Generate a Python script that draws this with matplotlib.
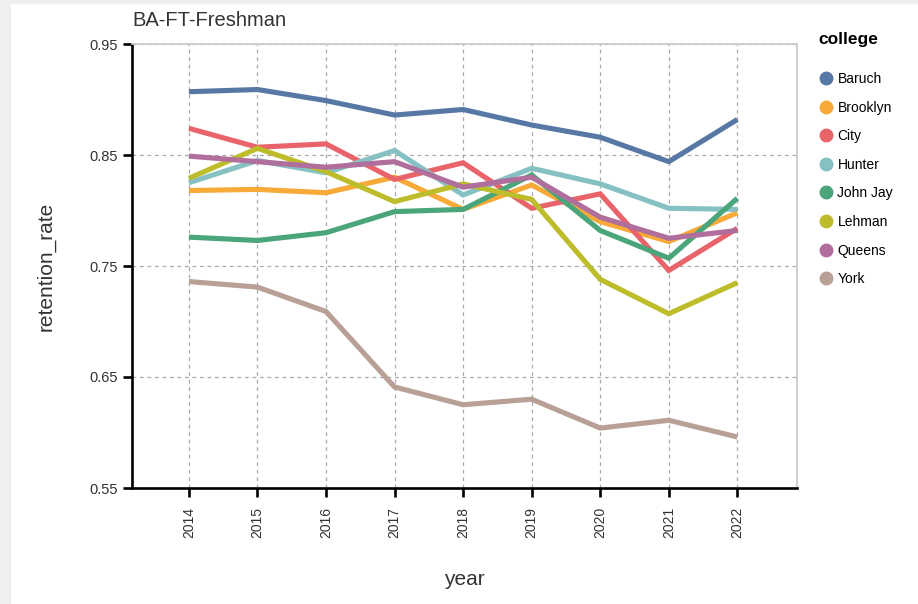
import matplotlib
matplotlib.use('Agg')
from matplotlib import pyplot as plt
from matplotlib.lines import Line2D
from matplotlib.patches import Rectangle
import numpy as np

plt.rcParams['font.family'] = ['Liberation Sans', 'DejaVu Sans']

years = [2014, 2015, 2016, 2017, 2018, 2019, 2020, 2021, 2022]
colleges = ['Baruch', 'Brooklyn', 'City', 'Hunter', 'John Jay', 'Lehman', 'Queens', 'York']

baruch = [0.907, 0.909, 0.899, 0.886, 0.891, 0.877, 0.866, 0.844, 0.882]
brooklyn = [0.818, 0.819, 0.816, 0.830, 0.801, 0.823, 0.790, 0.772, 0.798]
city = [0.874, 0.857, 0.860, 0.828, 0.843, 0.802, 0.815, 0.746, 0.784]
hunter = [0.825, 0.845, 0.834, 0.854, 0.814, 0.838, 0.824, 0.802, 0.801]
john_jay = [0.776, 0.773, 0.780, 0.799, 0.801, 0.832, 0.782, 0.757, 0.811]
lehman = [0.829, 0.856, 0.835, 0.808, 0.824, 0.810, 0.738, 0.707, 0.735]
queens = [0.849, 0.844, 0.839, 0.844, 0.821, 0.830, 0.794, 0.775, 0.782]
york = [0.736, 0.731, 0.709, 0.641, 0.625, 0.630, 0.604, 0.611, 0.596]

series = [baruch, brooklyn, city, hunter, john_jay, lehman, queens, york]
colors = ['#5778a4', '#f7aa38', '#e8636a', '#85c0c3', '#4aa57a',
          '#bdbd2c', '#b06e9c', '#b9a096']

yticks = [0.55, 0.65, 0.75, 0.85, 0.95]

fig = plt.figure(figsize=(9.18, 6.04), dpi=100, facecolor='white')
# screenshot border strips
fig.patches.append(Rectangle((0, 0), 10/918, 1, transform=fig.transFigure,
                             color='#efefef', zorder=0))
fig.patches.append(Rectangle((0, 1 - 3/604), 1, 3/604, transform=fig.transFigure,
                             color='#efefef', zorder=0))

ax = fig.add_axes([132/918, 1 - 488/604, 665/918, 444/604])

for name, vals, c in zip(colleges, series, colors):
    ax.plot(years, vals, color=c, linewidth=3.7, solid_capstyle='butt',
            solid_joinstyle='miter', label=name)

ax.set_xlim(2013.17, 2022.87)
ax.set_ylim(0.55, 0.95)
ax.set_xticks(years)
ax.set_xticklabels([str(y) for y in years], rotation=90, fontsize=10, color='#333333')
ax.set_yticks(yticks)
ax.set_yticklabels([f'{v:.2f}' for v in yticks], fontsize=10.5, color='#333333')

ax.grid(True, color='#aaaaaa', linestyle=(0, (3, 3)), linewidth=0.9)
ax.set_axisbelow(True)

for s in ['top', 'right']:
    ax.spines[s].set_color('#cccccc')
    ax.spines[s].set_linewidth(1.3)
for s in ['left', 'bottom']:
    ax.spines[s].set_color('black')
    ax.spines[s].set_linewidth(1.9)
ax.tick_params(axis='both', length=6.5, width=1.9, color='black')
ax.tick_params(axis='x', pad=7)
ax.tick_params(axis='y', pad=4)

ax.set_xlabel('year', fontsize=15, color='#333333', labelpad=23)
ax.set_ylabel('retention_rate', fontsize=15, color='#333333', labelpad=24)
ax.set_title('BA-FT-Freshman', loc='left', fontsize=14.5, color='#333333', pad=13)

handles = [Line2D([], [], linestyle='', marker='o', markersize=9,
                  markerfacecolor=c, markeredgecolor=c) for c in colors]
leg = fig.legend(handles, colleges, loc='upper left', bbox_to_anchor=(818/918, 1 - 32/604),
                 frameon=False, fontsize=10, title='college', alignment='left',
                 labelspacing=1.05, handletextpad=0.2, handlelength=1.2,
                 borderpad=0, borderaxespad=0)
leg.get_title().set_fontweight('bold')
leg.get_title().set_fontsize(12.5)
leg._legend_box.sep = 18

fig.savefig('out.png', dpi=100, facecolor=fig.get_facecolor())
